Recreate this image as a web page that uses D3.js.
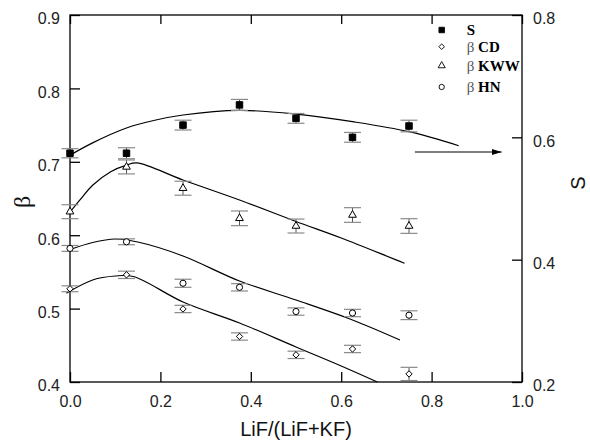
<!DOCTYPE html>
<meta charset="utf-8">
<style>
body { margin: 0; background: #fff; }
.frame { fill: none; stroke: #000; stroke-width: 1.3px; }
.axis path { display: none; }
.axis line { stroke: #000; stroke-width: 1.3px; }
.axis text { font-family: "Liberation Sans", Arial, sans-serif; font-size: 16px; fill: #222; }
.fit { fill: none; stroke: #000; stroke-width: 1.2px; }
.err line { stroke: #555; stroke-width: 1px; }
.err line.cap { stroke: #8a8a8a; stroke-width: 1.2px; }
.title { font-family: "Liberation Sans", Arial, sans-serif; font-size: 20px; fill: #111; }
.legend text { font-family: "Liberation Serif", serif; font-size: 15px; font-weight: bold; fill: #000; }
</style>
<svg width="590" height="444"></svg>
<script src="https://cdnjs.cloudflare.com/ajax/libs/d3/7.8.5/d3.min.js"></script>
<script>

// LiF fraction of each sample
var composition = [0, 0.125, 0.25, 0.375, 0.5, 0.625, 0.75];

// S (right axis) and the three beta values (left axis)
var sValues   = [0.574, 0.574, 0.620, 0.653, 0.631, 0.600, 0.6185];
var sErr      = [0.0075, 0.009, 0.008, 0.009, 0.008, 0.008, 0.0095];
var kwwValues = [0.632, 0.693, 0.664, 0.623, 0.6125, 0.6275, 0.6125];
var kwwErr    = [0.0095, 0.0095, 0.0095, 0.01, 0.0095, 0.01, 0.01];
var hnValues  = [0.582, 0.591, 0.5345, 0.529, 0.496, 0.494, 0.491];
var hnErr     = [0.004, 0.004, 0.0055, 0.005, 0.005, 0.005, 0.006];
var cdValues  = [0.527, 0.546, 0.4995, 0.462, 0.437, 0.445, 0.411];
var cdErr     = [0.004, 0.005, 0.005, 0.005, 0.005, 0.005, 0.009];

// fitted curves
var sFitX   = [-0.006, 0.05, 0.125, 0.19, 0.25, 0.375, 0.5, 0.625, 0.75, 0.86];
var sFitY   = [0.5683, 0.591, 0.6153, 0.6283, 0.6365, 0.644, 0.638, 0.6256, 0.6092, 0.5863];
var kwwFitX = [-0.003, 0.022, 0.05, 0.09, 0.125, 0.148, 0.25, 0.375, 0.5, 0.6, 0.74];
var kwwFitY = [0.629, 0.648, 0.668, 0.6865, 0.6955, 0.6985, 0.6752, 0.648, 0.6187, 0.5962, 0.5617];
var hnFitX  = [-0.004, 0.05, 0.1, 0.15, 0.25, 0.375, 0.5, 0.625, 0.73];
var hnFitY  = [0.5795, 0.590, 0.5948, 0.5907, 0.5717, 0.5376, 0.5117, 0.4845, 0.4572];
var cdFitX  = [-0.008, 0.05, 0.1, 0.14, 0.25, 0.375, 0.5, 0.6, 0.68];
var cdFitY  = [0.5209, 0.539, 0.5444, 0.5437, 0.509, 0.4804, 0.4477, 0.4218, 0.40];

// arrow pointing to the S axis
var arrowFromX = 0.763, arrowToX = 0.955, arrowS = 0.576;

var xTicks = [0, 0.2, 0.4, 0.6, 0.8, 1.0];
var betaTicks = [0.4, 0.5, 0.6, 0.7, 0.8, 0.9];
var sTicks = [0.2, 0.4, 0.6, 0.8];

var svg = d3.select("svg");

var x = d3.scaleLinear().domain([0, 1]).range([70, 522]),
    yB = d3.scaleLinear().domain([0.4, 0.9]).range([382, 15]),
    yS = d3.scaleLinear().domain([0.2, 0.8]).range([382, 15]);

svg.append("defs").append("marker")
    .attr("id", "head")
    .attr("viewBox", "0 0 10 6")
    .attr("refX", 10).attr("refY", 3)
    .attr("markerWidth", 10).attr("markerHeight", 6)
    .attr("markerUnits", "userSpaceOnUse")
    .attr("orient", "auto")
  .append("path")
    .attr("d", "M0,0L10,3L0,6Z")
    .attr("fill", "#000");

// axes (ticks point inward)
svg.append("g").attr("class", "axis")
    .attr("transform", "translate(0," + yB(0.4) + ")")
    .call(d3.axisBottom(x).tickValues(xTicks).tickSizeInner(-10).tickSizeOuter(0)
      .tickPadding(14).tickFormat(d3.format(".1f")));

svg.append("g").attr("class", "axis")
    .attr("transform", "translate(0," + yB(0.9) + ")")
    .call(d3.axisTop(x).tickValues(xTicks).tickSizeInner(-9).tickSizeOuter(0).tickFormat(""));

svg.append("g").attr("class", "axis")
    .attr("transform", "translate(" + x(0) + ",0)")
    .call(d3.axisLeft(yB).tickValues(betaTicks).tickSizeInner(-10).tickSizeOuter(0)
      .tickPadding(10).tickFormat(d3.format(".1f")))
  .selectAll("text").attr("dy", "0.55em");

svg.append("g").attr("class", "axis")
    .attr("transform", "translate(" + x(1) + ",0)")
    .call(d3.axisRight(yS).tickValues(sTicks).tickSizeInner(-10).tickSizeOuter(0)
      .tickPadding(11).tickFormat(d3.format(".1f")))
  .selectAll("text").attr("dy", "0.55em");

svg.append("rect").attr("class", "frame")
    .attr("x", x(0)).attr("y", yB(0.9))
    .attr("width", x(1) - x(0)).attr("height", yB(0.4) - yB(0.9));

// titles
svg.append("text").attr("class", "title")
    .attr("x", (x(0) + x(1)) / 2).attr("y", 436)
    .attr("text-anchor", "middle")
    .text("LiF/(LiF+KF)");

svg.append("text").attr("class", "title")
    .attr("transform", "translate(30,202)rotate(-90)")
    .attr("text-anchor", "middle")
    .style("font-family", "'Liberation Serif', serif")
    .style("font-size", "24px")
    .text("β");

svg.append("text").attr("class", "title")
    .attr("transform", "translate(585,183)rotate(-90)")
    .attr("text-anchor", "middle")
    .text("S");

// fitted curves
function fit(xs, ys, y) {
  var line = d3.line()
      .x(function(d) { return x(d[0]); })
      .y(function(d) { return y(d[1]); })
      .curve(d3.curveCatmullRom.alpha(0.5));
  svg.append("path").attr("class", "fit")
      .attr("d", line(d3.zip(xs, ys)));
}
fit(sFitX, sFitY, yS);
fit(kwwFitX, kwwFitY, yB);
fit(hnFitX, hnFitY, yB);
fit(cdFitX, cdFitY, yB);

// data points with error bars
function series(vals, errs, y, symbol, size, filled) {
  var g = svg.append("g").attr("class", "err");
  var pts = d3.zip(composition, vals, errs);
  pts.forEach(function(d) {
    var cx = x(d[0]);
    g.append("line").attr("x1", cx).attr("x2", cx)
        .attr("y1", y(d[1] - d[2])).attr("y2", y(d[1] + d[2]));
    [d[1] - d[2], d[1] + d[2]].forEach(function(v) {
      g.append("line").attr("class", "cap")
          .attr("x1", cx - 8.5).attr("x2", cx + 8.5)
          .attr("y1", y(v)).attr("y2", y(v));
    });
  });
  svg.append("g").selectAll("path")
      .data(pts)
    .enter().append("path")
      .attr("transform", function(d) { return "translate(" + x(d[0]) + "," + y(d[1]) + ")"; })
      .attr("d", d3.symbol().type(symbol).size(size))
      .attr("fill", filled ? "#000" : "#fff")
      .attr("stroke", "#000")
      .attr("stroke-width", 1);
}
series(kwwValues, kwwErr, yB, d3.symbolTriangle, 26, false);
series(hnValues, hnErr, yB, d3.symbolCircle, 30, false);
series(cdValues, cdErr, yB, d3.symbolDiamond2, 26, false);
series(sValues, sErr, yS, d3.symbolSquare, 42, true);

// arrow
svg.append("line")
    .attr("x1", x(arrowFromX)).attr("x2", x(arrowToX))
    .attr("y1", yS(arrowS)).attr("y2", yS(arrowS))
    .attr("stroke", "#000").attr("stroke-width", 1.2)
    .attr("marker-end", "url(#head)");

// legend
var legendItems = [
  {greek: "", name: "S", symbol: d3.symbolSquare, size: 30, filled: true},
  {greek: "β ", name: "CD", symbol: d3.symbolDiamond2, size: 20, filled: false},
  {greek: "β ", name: "KWW", symbol: d3.symbolTriangle, size: 22, filled: false},
  {greek: "β ", name: "HN", symbol: d3.symbolCircle, size: 22, filled: false}
];
var legendRows = [30, 46.7, 65.7, 87];

var legend = svg.append("g").attr("class", "legend");
legendItems.forEach(function(d, i) {
  legend.append("path")
      .attr("transform", "translate(441.7," + legendRows[i] + ")")
      .attr("d", d3.symbol().type(d.symbol).size(d.size))
      .attr("fill", d.filled ? "#000" : "#fff")
      .attr("stroke", "#000").attr("stroke-width", 0.9);
  var t = legend.append("text")
      .attr("x", 466.7).attr("y", legendRows[i] + 5);
  t.append("tspan").style("font-weight", "normal").attr("fill", "#555").text(d.greek);
  t.append("tspan").text(d.name);
});

</script>
